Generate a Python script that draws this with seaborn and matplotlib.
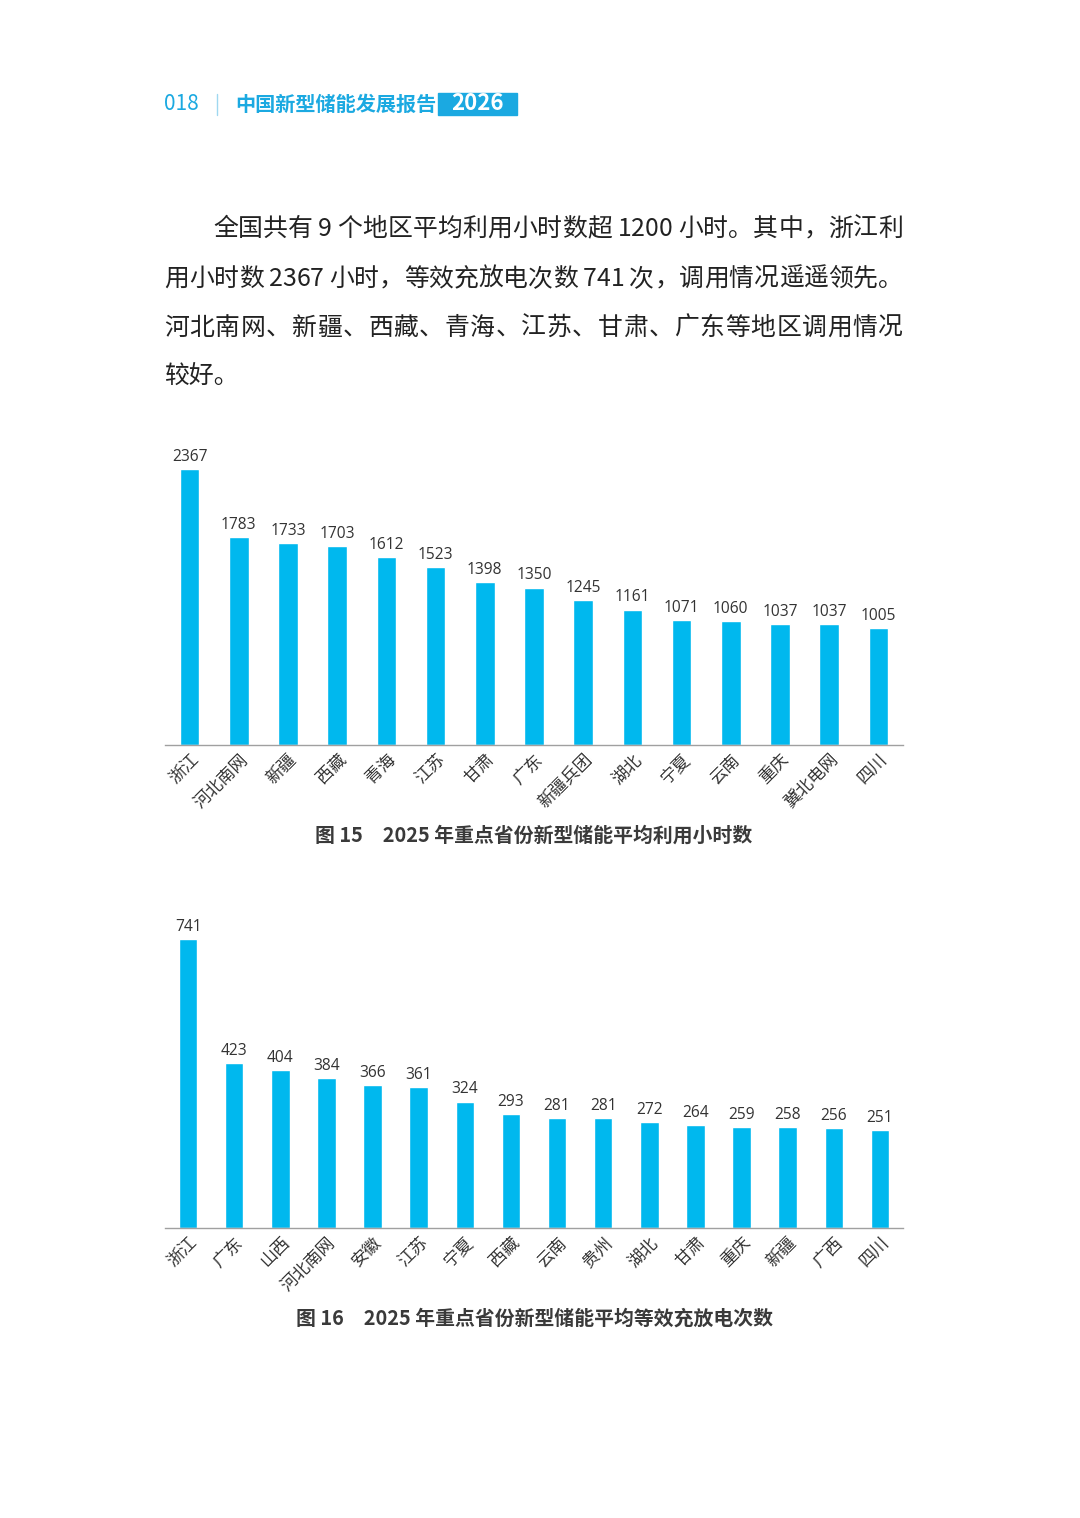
import matplotlib
matplotlib.use('Agg')
from matplotlib import pyplot as plt
from matplotlib.patches import Rectangle
import seaborn as sns


# 图 15 数据
hours_regions = ['浙江', '河北南网', '新疆', '西藏', '青海', '江苏', '甘肃', '广东',
                 '新疆兵团', '湖北', '宁夏', '云南', '重庆', '冀北电网', '四川']
hours_values = [2367, 1783, 1733, 1703, 1612, 1523, 1398, 1350,
                1245, 1161, 1071, 1060, 1037, 1037, 1005]

# 图 16 数据
cycles_regions = ['浙江', '广东', '山西', '河北南网', '安徽', '江苏', '宁夏', '西藏',
                  '云南', '贵州', '湖北', '甘肃', '重庆', '新疆', '广西', '四川']
cycles_values = [741, 423, 404, 384, 366, 361, 324, 293,
                 281, 281, 272, 264, 259, 258, 256, 251]

body_lines = [
    '全国共有 9 个地区平均利用小时数超 1200 小时。其中，浙江利',
    '用小时数 2367 小时，等效充放电次数 741 次，调用情况遥遥领先。',
    '河北南网、新疆、西藏、青海、江苏、甘肃、广东等地区调用情况',
    '较好。',
]

BLUE = '#00b8ee'
HEAD = '#1ba9e1'
W, H = 1080, 1518

sns.set_style('white')
plt.rcParams['font.family'] = ['Noto Sans CJK SC', 'DejaVu Sans']

fig = plt.figure(figsize=(W / 100, H / 100), dpi=100)


def px_axes(left, top, right, bottom):
    return fig.add_axes([left / W, 1 - bottom / H, (right - left) / W, (bottom - top) / H])


def draw_bars(ax, regions, values, ymax):
    sns.barplot(x=regions, y=values, color=BLUE, width=0.4, saturation=1, ax=ax)
    ax.set_xlim(-0.5, len(regions) - 0.5)
    ax.set_ylim(0, ymax)
    ax.bar_label(ax.containers[0], labels=[str(v) for v in values],
                 padding=3, fontsize=11.2, color='#333333',
                 family=['Open Sans', 'DejaVu Sans'])
    for s in ['top', 'right', 'left']:
        ax.spines[s].set_visible(False)
    ax.spines['bottom'].set_color('#a0a0a0')
    ax.spines['bottom'].set_linewidth(1.0)
    ax.set_yticks([])
    ax.tick_params(axis='x', length=0, pad=4)
    for lbl in ax.get_xticklabels():
        lbl.set_rotation(45)
        lbl.set_ha('right')
        lbl.set_rotation_mode('anchor')
        lbl.set_fontsize(12.3)
        lbl.set_color('#333333')
    ax.set_xlabel('')
    ax.set_ylabel('')


ax1 = px_axes(165, 440, 903, 745)
draw_bars(ax1, hours_regions, hours_values, 2616)

ax2 = px_axes(165, 910, 903, 1228)
draw_bars(ax2, cycles_regions, cycles_values, 815)

# 页眉
fig.text(164 / W, 1 - 104 / H, '018', fontsize=15, color=HEAD, va='center', ha='left')
fig.add_artist(plt.Line2D([217 / W, 217 / W], [1 - 94 / H, 1 - 115 / H],
                          color='#9fd8f0', linewidth=1))
fig.text(235 / W, 1 - 104 / H, '中国新型储能发展报告', fontsize=14.5, color=HEAD,
         fontweight='bold', va='center', ha='left')
fig.add_artist(Rectangle((438 / W, 1 - 115 / H), 79 / W, 22 / H,
                         transform=fig.transFigure, color=HEAD))
fig.text(477.5 / W, 1 - 104 / H, '2026', fontsize=16, color='white',
         fontweight='heavy', va='center', ha='center')

# 正文：前三行两端对齐到 903 px
renderer = fig.canvas.get_renderer()
starts = [213, 164, 164, 164]
ys = [229, 279, 328, 377]
right_edge = 903
for i, (line, x, y) in enumerate(zip(body_lines, starts, ys)):
    if i == len(body_lines) - 1:
        fig.text(x / W, 1 - y / H, line, fontsize=17.9, color='#222222',
                 va='center', ha='left')
        continue
    chars = []
    widths = []
    for ch in line:
        t = fig.text(0, 0, ch, fontsize=17.9, color='#222222', va='center', ha='left')
        chars.append(t)
        if ch == ' ':
            widths.append(t.get_window_extent(renderer).width * 0 + 5)
        else:
            widths.append(t.get_window_extent(renderer).width)
    extra = (right_edge - x - sum(widths)) / (len(chars) - 1)
    cx = x
    for t, w in zip(chars, widths):
        t.set_position((cx / W, 1 - y / H))
        cx += w + extra

# 图题
fig.text(534 / W, 1 - 835 / H, '图 15　2025 年重点省份新型储能平均利用小时数',
         fontsize=14.3, color='#3a3a3a', fontweight='bold', ha='center', va='center')
fig.text(534 / W, 1 - 1318 / H, '图 16　2025 年重点省份新型储能平均等效充放电次数',
         fontsize=14.3, color='#3a3a3a', fontweight='bold', ha='center', va='center')

fig.savefig('out.png', dpi=100, facecolor='white')
